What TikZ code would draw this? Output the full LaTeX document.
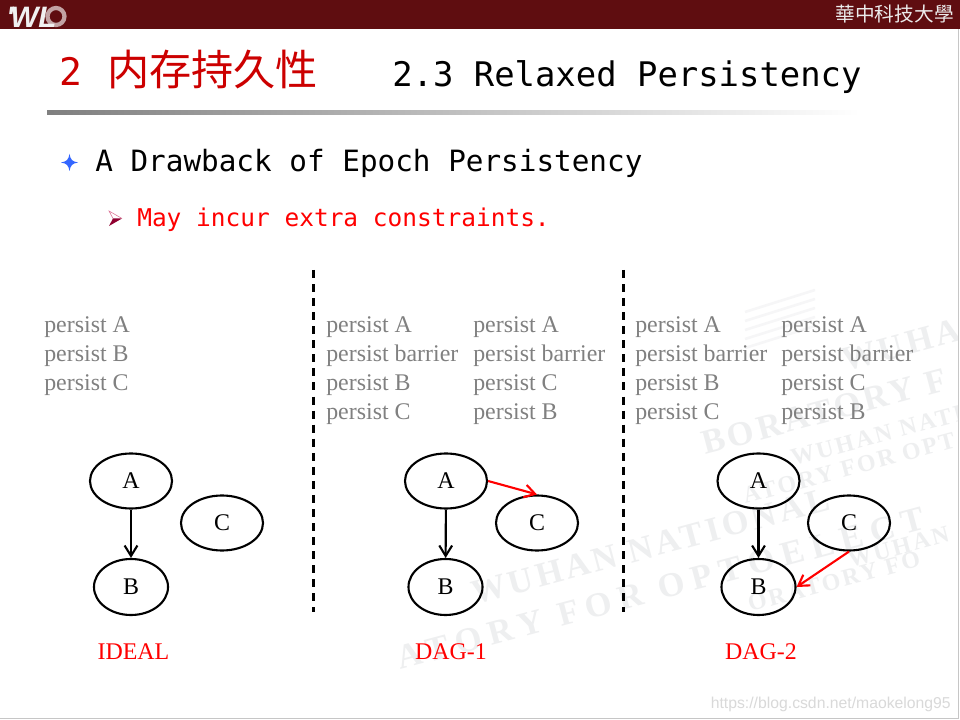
\documentclass[tikz,border=0pt]{standalone}
\usepackage{fontspec}
\usetikzlibrary{shapes.geometric,arrows.meta}
\setmainfont{Liberation Serif}
\newfontfamily\monofont{DejaVu Sans Mono}
\newfontfamily\cjkfont{Noto Sans CJK SC}
\newfontfamily\cjktcfont{Noto Sans CJK TC}
\newfontfamily\logofont{Liberation Sans}
\newfontfamily\markfont[LetterSpace=10]{Liberation Serif}
\newfontfamily\markwidefont[LetterSpace=22]{Liberation Serif}
\definecolor{barred}{HTML}{5F0D10}
\definecolor{titlered}{HTML}{CC0000}
\definecolor{marble}{HTML}{EEEFF0}
\definecolor{starblue}{HTML}{3366FF}
\begin{document}
\begin{tikzpicture}[x=0.025cm,y=-0.025cm]
        \tikzstyle{vertex}=[ellipse, draw, line width=1.5pt, minimum width=2.05cm, minimum height=1.375cm, inner sep=0pt, font=\fontsize{17}{18}\selectfont]
        \tikzstyle{vertexb}=[vertex, minimum width=1.85cm, minimum height=1.4cm]
        \tikzstyle{persist}=[anchor=north west, align=left, inner sep=0pt, text=gray, font=\fontsize{17}{20.6}\selectfont]
        \tikzstyle{caption}=[anchor=base, inner sep=0pt, text=red, font=\fontsize{17}{20}\selectfont]
        \tikzstyle{link}=[line width=1.5pt, -{Straight Barb[length=2.6mm,width=3.2mm]}]
        \tikzstyle{stamp}=[anchor=base west, inner sep=0pt, rotate=15, text=marble]
        \tikzstyle{bigstamp}=[stamp, font=\markfont\bfseries\fontsize{24.5}{26}\selectfont]
        \tikzstyle{widestamp}=[stamp, font=\markwidefont\bfseries\fontsize{24.5}{26}\selectfont]
        \tikzstyle{smallstamp}=[stamp, font=\markfont\bfseries\fontsize{17}{18}\selectfont]
        \tikzstyle{divider}=[line width=1.5pt, dash pattern=on 5.7pt off 4.3pt]

        \useasboundingbox (0,0) rectangle (960,720);
        \fill[white] (0,0) rectangle (960,720);

        \begin{scope}
            \clip (0,29) rectangle (958,718);
            \foreach \y in {0,9,...,36} {
                \draw[marble!55, line width=1.8pt] (745,312+\y) -- (815,290+\y);
            }
            \node[bigstamp] (mark1) at (475,605) {WUHAN NATIONAL};
            \node[widestamp] (mark2) at (400,670) {ATORY FOR OPTOELECT};
            \node[bigstamp] (mark3) at (845,372) {WUHA};
            \node[bigstamp] (mark4) at (705,455) {BORATORY F};
            \node[smallstamp] (mark5) at (793,466) {WUHAN NATI};
            \node[smallstamp] (mark6) at (745,504) {ATORY FOR OPT};
            \node[smallstamp] (mark7) at (850,568) {WUHAN};
            \node[smallstamp] (mark8) at (750,612) {ORATORY FO};
        \end{scope}

        \fill[barred] (0,0) rectangle (960,29.5);
        \draw[gray!45, line width=0.7pt] (958.5,29.5) -- (958.5,718.5) -- (0,718.5);
        \draw[white!62!barred, line width=3pt] (56,16.5) circle (8.5);
        \node[anchor=base west, inner sep=0pt, text=white!94!black, font=\logofont\bfseries\itshape\fontsize{21}{22}\selectfont] (logo) at (6,28) {'\kern-2pt WL};
        \node[anchor=base east, inner sep=0pt, text=white!92!black, font=\cjktcfont\fontsize{14}{16}\selectfont] (school) at (954,22) {華中科技大學};

        \node[anchor=base west, inner sep=0pt, text=titlered, font=\fontsize{30}{32}\selectfont] (title) at (59,86) {\monofont\fontsize{27}{32}\selectfont 2 \kern1.6pt\cjkfont\fontsize{30}{32}\selectfont 内存持久性};
        \node[anchor=base west, inner sep=0pt, font=\monofont\fontsize{24.1}{26}\selectfont] (section) at (392,87) {2.3 Relaxed Persistency};
        \shade[left color=black!50, right color=white] (47,111) rectangle (860,115);

        \fill[starblue] (69.5,154) .. controls (70.5,159.5) and (72,161.5) .. (78,162.5) .. controls (72,163.5) and (70.5,165.5) .. (69.5,171) .. controls (68.5,165.5) and (67,163.5) .. (61,162.5) .. controls (67,161.5) and (68.5,159.5) .. (69.5,154);
        \node[anchor=base west, inner sep=0pt, font=\monofont\fontsize{20.85}{24}\selectfont] (head) at (95,172) {A Drawback of Epoch Persistency};
        \fill[purple!75!black] (122,218.5) -- (109,226) -- (113,218.5) -- cycle;
        \draw[purple!55!white, line width=0.4pt] (122,218.5) -- (109,211) -- (113,218.5);
        \node[anchor=base west, inner sep=0pt, text=red, font=\monofont\fontsize{17.4}{20}\selectfont] (sub) at (137,227) {May incur extra constraints.};

        \node[inner sep=0pt] (top1) at (313.5,269) {};
        \node[inner sep=0pt] (bot1) at (313.5,613) {};
        \node[inner sep=0pt] (top2) at (623.5,269) {};
        \node[inner sep=0pt] (bot2) at (623.5,613) {};
        \draw[divider] (top1) -- (bot1);
        \draw[divider] (top2) -- (bot2);

        \node[persist] (list0) at (44,316) {persist A\\persist B\\persist C};
        \node[persist] (list1) at (326,316) {persist A\\persist barrier\\persist B\\persist C};
        \node[persist] (list2) at (473,316) {persist A\\persist barrier\\persist C\\persist B};
        \node[persist] (list3) at (635,316) {persist A\\persist barrier\\persist B\\persist C};
        \node[persist] (list4) at (781,316) {persist A\\persist barrier\\persist C\\persist B};

        \node[vertex] (ia) at (131,481) {A};
        \node[vertexb] (ib) at (131,587) {B};
        \node[vertex] (ic) at (222,523) {C};
        \node[vertex] (oa) at (446,481) {A};
        \node[vertexb] (ob) at (445.5,587) {B};
        \node[vertex] (oc) at (537,523) {C};
        \node[vertex] (ta) at (758.5,481) {A};
        \node[vertexb] (tb) at (758.5,587) {B};
        \node[vertex] (tc) at (849,523) {C};

        \draw[link] (ia) -- (ib);
        \draw[link] (oa) -- (ob);
        \draw[link] (ta) -- (tb);
        \draw[link, red] (oa.east) -- (oc.north);
        \draw[link, red] (tc.south) -- (tb.east);

        \node[caption] (ideal) at (133.5,659) {IDEAL};
        \node[caption] (dag1) at (451,659) {DAG-1};
        \node[caption] (dag2) at (761,659) {DAG-2};
        \node[anchor=base east, inner sep=0pt, text=gray!30, font=\logofont\fontsize{11.2}{12}\selectfont] (url) at (951,708) {https://blog.csdn.net/maokelong95};
    \end{tikzpicture}
\end{document}
